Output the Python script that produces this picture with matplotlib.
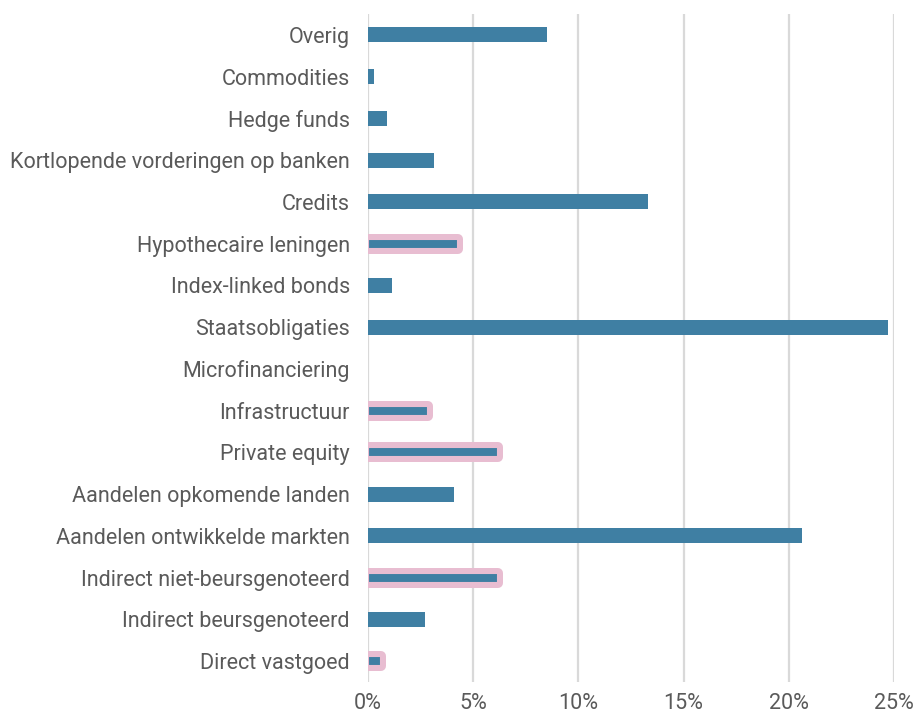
import matplotlib.pyplot as plt
from matplotlib.ticker import FuncFormatter

# categories, top to bottom
categories = [
    "Overig", "Commodities", "Hedge funds", "Kortlopende vorderingen op banken",
    "Credits", "Hypothecaire leningen", "Index-linked bonds", "Staatsobligaties",
    "Microfinanciering", "Infrastructuur", "Private equity",
    "Aandelen opkomende landen", "Aandelen ontwikkelde markten",
    "Indirect niet-beursgenoteerd", "Indirect beursgenoteerd", "Direct vastgoed",
]
values = [8.5, 0.27, 0.88, 3.15, 13.3, 4.3, 1.16, 24.7, 0.0, 2.83, 6.2,
          4.08, 20.65, 6.2, 2.73, 0.6]
highlighted = [False, False, False, False, False, True, False, False,
               False, True, True, False, False, True, False, True]
xticks = [0, 5, 10, 15, 20, 25]

blue = "#3f7fa3"
pink = "#e8bdd1"
grey_text = "#5a5a5a"

plt.rcParams['font.family'] = ['Roboto', 'DejaVu Sans']

fig = plt.figure(figsize=(9.15, 7.15), dpi=100)
ax = fig.add_axes([368 / 915, 33 / 715, 526 / 915, 668 / 715])

n = len(categories)
ypos = list(range(n))[::-1]

for y, v, hl in zip(ypos, values, highlighted):
    if hl:
        # pink rounded halo behind the thinner bar
        ax.barh(y, v, height=0.24, color=pink, edgecolor=pink, linewidth=7.2,
                joinstyle='round', zorder=2)
        ax.barh(y, v, height=0.24, color=blue, edgecolor=pink, linewidth=1.5,
                zorder=3)
    else:
        ax.barh(y, v, height=0.36, color=blue, zorder=3)

ax.set_xlim(0, 25)
ax.set_ylim(-0.5, n - 0.5)
ax.set_yticks(ypos)
ax.set_yticklabels(categories)
ax.set_xticks(xticks)
ax.xaxis.set_major_formatter(FuncFormatter(lambda x, p: f"{x:.0f}%"))

ax.grid(axis='x', color='#d9d9d9', linewidth=1.6, zorder=0)
ax.set_axisbelow(True)
for s in ax.spines.values():
    s.set_visible(False)
ax.tick_params(axis='both', length=0, labelsize=15.5, labelcolor=grey_text)
ax.tick_params(axis='y', pad=13)
ax.tick_params(axis='x', pad=8)

fig.savefig("out.png", dpi=100)
